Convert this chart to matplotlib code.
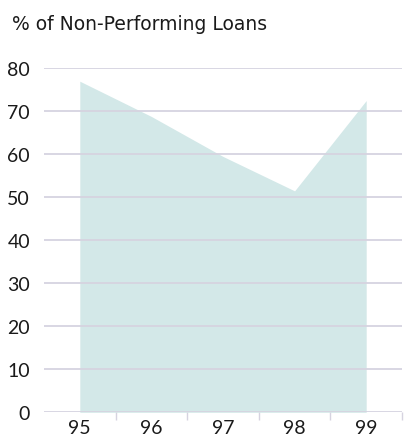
import matplotlib
matplotlib.use("Agg")
from matplotlib import pyplot as plt
import numpy as np

years = ["95", "96", "97", "98", "99"]
npl_pct = [77.0, 68.8, 59.5, 51.5, 72.5]
y_ticks = [0, 10, 20, 30, 40, 50, 60, 70, 80]

fill_color = "#d3e8e8"
grid_color = "#d6d3e0"
text_color = "#1a1a1a"

fig = plt.figure(figsize=(4.05, 4.39), dpi=100)
ax = fig.add_axes([44 / 405, 1 - 413.3 / 439, 358 / 405, (413.3 - 69.3) / 439])

x = np.arange(len(years))
ax.fill_between(x, 0, npl_pct, color=fill_color, linewidth=0, zorder=1)

# horizontal gridlines, drawn over the area
for v in y_ticks:
    ax.axhline(v, color=grid_color, linewidth=1.3, zorder=2)

ax.set_xlim(-0.5, len(years) - 0.5)
ax.set_ylim(0, 80)
for s in ax.spines.values():
    s.set_visible(False)

# category labels centred, tick marks on the band boundaries
ax.set_xticks(x)
ax.set_xticklabels(years, fontsize=14, family="Lato", color=text_color)
ax.tick_params(axis="x", which="major", length=0, pad=5)
ax.set_xticks(x + 0.5, minor=True)
ax.tick_params(axis="x", which="minor", length=6, width=1, color=grid_color)

ax.set_yticks(y_ticks)
ax.set_yticklabels([str(v) for v in y_ticks], fontsize=14, family="Lato", color=text_color)
ax.tick_params(axis="y", length=0, pad=10)

fig.text(12 / 405, 1 - 15 / 439, "% of Non-Performing Loans", fontsize=13.5,
         family="DejaVu Sans", color=text_color, va="top", ha="left")

fig.savefig("out.png", dpi=100)
